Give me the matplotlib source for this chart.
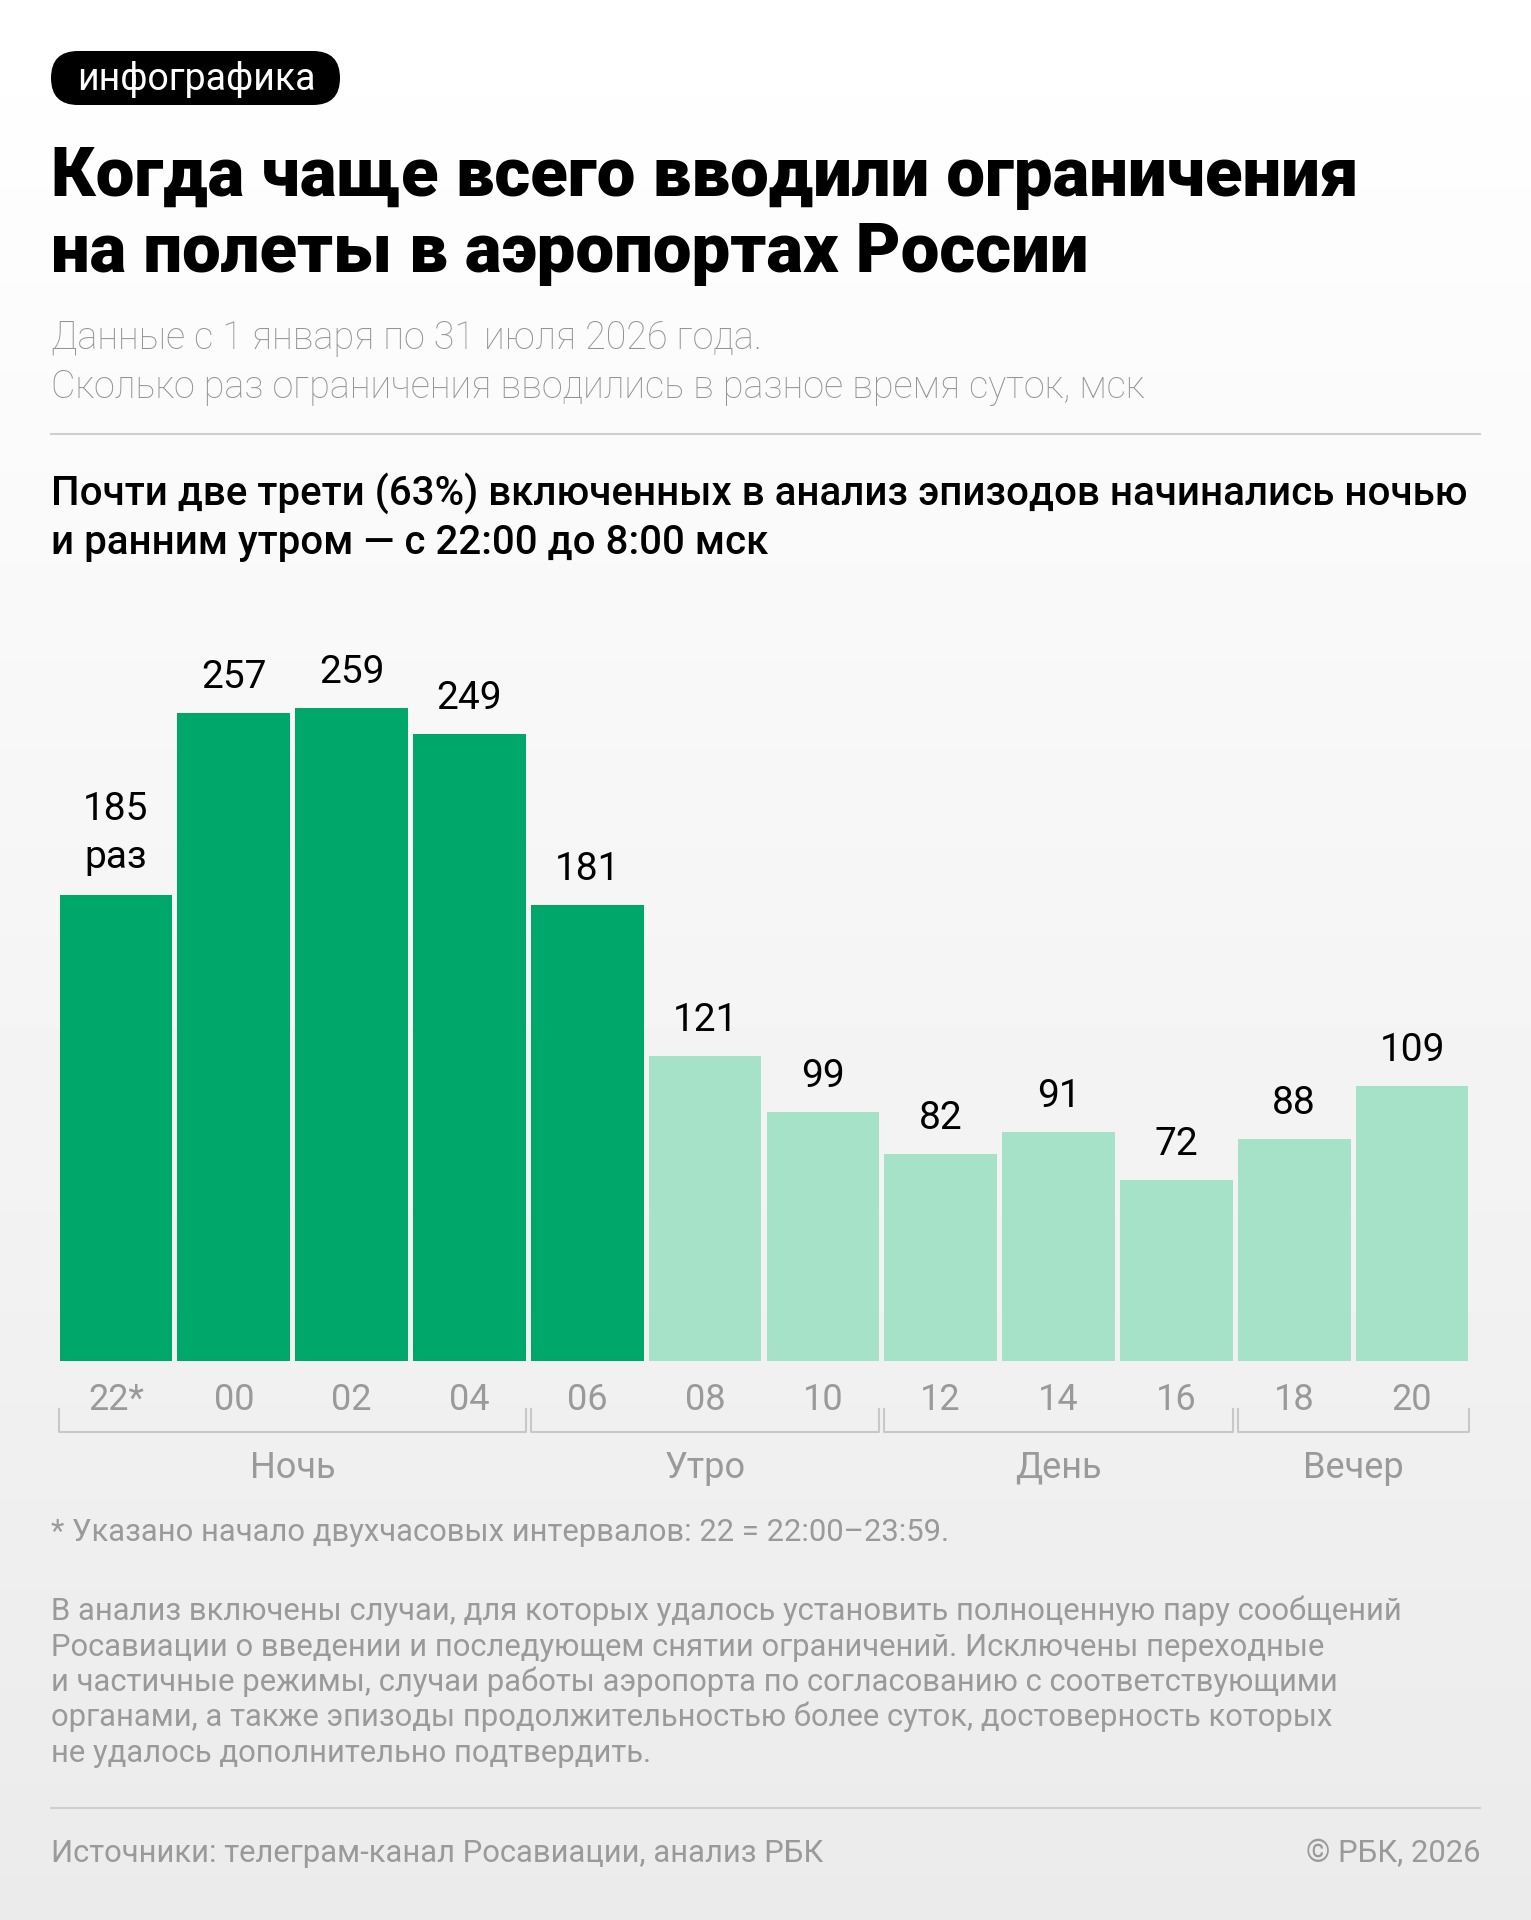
import numpy as np
import matplotlib.pyplot as plt
from matplotlib.patches import FancyBboxPatch
from matplotlib.transforms import blended_transform_factory

plt.rcParams['font.family'] = ['Roboto', 'DejaVu Sans']

hours = ['22*', '00', '02', '04', '06', '08', '10', '12', '14', '16', '18', '20']
counts = [185, 257, 259, 249, 181, 121, 99, 82, 91, 72, 88, 109]
dark = [True, True, True, True, True, False, False, False, False, False, False, False]
groups = ['Ночь', 'Утро', 'День', 'Вечер']
group_start = [0, 4, 7, 10]
group_end = [3, 6, 9, 11]

title = 'Когда чаще всего вводили ограничения\nна полеты в аэропортах России'
sub1 = 'Данные с 1 января по 31 июля 2026 года.'
sub2 = 'Сколько раз ограничения вводились в разное время суток, мск'
lead1 = 'Почти две трети (63%) включенных в анализ эпизодов начинались ночью'
lead2 = 'и ранним утром — с 22:00 до 8:00 мск'
footnote = '* Указано начало двухчасовых интервалов: 22 = 22:00–23:59.'
note = ['В анализ включены случаи, для которых удалось установить полноценную пару сообщений',
        'Росавиации о введении и последующем снятии ограничений. Исключены переходные',
        'и частичные режимы, случаи работы аэропорта по согласованию с соответствующими',
        'органами, а также эпизоды продолжительностью более суток, достоверность которых',
        'не удалось дополнительно подтвердить.']
source = 'Источники: телеграм-канал Росавиации, анализ РБК'
copyright = '© РБК, 2026'

W, H = 1531, 1920
DARK = '#00a76a'
LIGHT = '#a6e2c7'
GREY = '#9a9a9a'

fig = plt.figure(figsize=(W / 100, H / 100), dpi=100)

# background in pixel coords, y down
bg = fig.add_axes([0, 0, 1, 1], zorder=0)
bg.set_xlim(0, W)
bg.set_ylim(H, 0)
bg.axis('off')
grad = np.linspace(1.0, 0.92, 256).reshape(-1, 1)
bg.imshow(grad, cmap='gray', vmin=0, vmax=1, extent=[0, W, H, 0], aspect='auto')

# tag
bg.add_patch(FancyBboxPatch((51, 51), 289, 54, boxstyle='round,pad=0,rounding_size=27',
                            fc='black', ec='none'))
bg.text(196, 79, 'инфографика', color='white', fontsize=27, weight='normal',
        ha='center', va='center')

bg.text(51, 196, title.split('\n')[0], fontsize=49.7, weight='black', va='baseline')
bg.text(51, 272, title.split('\n')[1], fontsize=49.7, weight='black', va='baseline')
bg.text(51, 349, sub1, fontsize=27.2, weight='light', color='#949494', va='baseline')
bg.text(51, 398, sub2, fontsize=27.2, weight='light', color='#949494', va='baseline')
bg.plot([51, 1480], [434, 434], color='#cfcfcf', lw=1.5)
bg.text(51, 505, lead1, fontsize=29, weight='medium', va='baseline')
bg.text(51, 554, lead2, fontsize=29, weight='medium', va='baseline')

bg.text(51, 1541, footnote, fontsize=22.3, color=GREY, va='baseline')
for k, line in enumerate(note):
    bg.text(51, 1620 + k * 35.5, line, fontsize=22.3, color=GREY, va='baseline')
bg.plot([51, 1480], [1808, 1808], color='#cfcfcf', lw=1.5)
bg.text(51, 1862, source, fontsize=22.3, color=GREY, va='baseline')
bg.text(1480, 1862, copyright, fontsize=22.3, color=GREY, va='baseline', ha='right')

# bars
x0, x1, base = 57, 1471, 1361
ymax = 300
px_per_unit = 2.52
ax = fig.add_axes([x0 / W, (H - base) / H, (x1 - x0) / W, ymax * px_per_unit / H], zorder=2)
ax.patch.set_alpha(0)
n = len(counts)
xs = np.arange(n)
colors = [DARK if d else LIGHT for d in dark]
ax.bar(xs, counts, width=0.955, color=colors)
ax.set_xlim(-0.5, n - 0.5)
ax.set_ylim(0, ymax)
for s in ax.spines.values():
    s.set_visible(False)
ax.set_yticks([])
ax.set_xticks(xs)
ax.set_xticklabels(hours, fontsize=26, weight='normal', color=GREY)
ax.tick_params(axis='x', length=0, pad=15)

for i, v in enumerate(counts):
    ax.annotate(str(v), (i, v), xytext=(0, 18 if i else 54), textcoords='offset points',
                ha='center', va='baseline', fontsize=28)
ax.annotate('раз', (0, counts[0]), xytext=(0, 19), textcoords='offset points',
            ha='center', va='baseline', fontsize=28)

# brackets under ticks
tr = blended_transform_factory(ax.transData, bg.transData)
for name, a, b in zip(groups, group_start, group_end):
    xl, xr = a - 0.5 + 0.02, b + 0.5 - 0.02
    ax.plot([xl, xl, xr, xr], [1409, 1432, 1432, 1409], color='#c8c8c8', lw=1.5,
            transform=tr, clip_on=False)
    ax.text((xl + xr) / 2, 1468, name, fontsize=26, weight='normal', color=GREY,
            ha='center', va='center', transform=tr)

fig.savefig('out.png', dpi=100)
